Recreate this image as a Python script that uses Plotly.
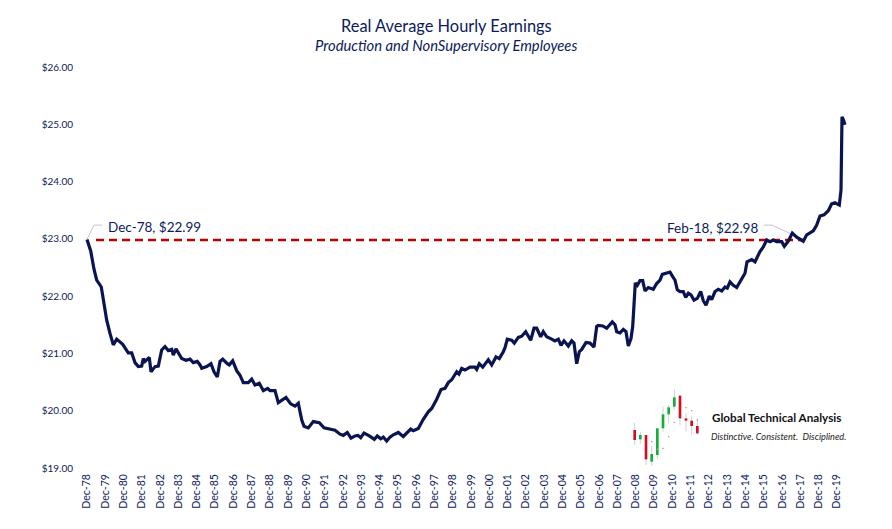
import plotly.graph_objects as go

px_series = [87,90.7,94,96.7,101.3,103.3,106.7,110,113.3,116.7,122.7,128.3,131.7,135,138.3,141.7,143.3,145,149.3,151,155,158.3,161.7,165,168.3,171.7,173.3,176,181.7,186,190,193.3,197.3,200,201.7,206.7,211,214,217.3,220,222.7,227.3,229.3,232.7,236.7,240,243.3,248.3,251.7,255,259.3,263.3,267.7,270,275,278.3,283.3,286,290.7,295,298.3,301.7,304,308.3,313.3,319.3,324,328.3,335,340,343.3,347.3,351,355,358,360.7,364,369.3,374.3,377.3,380.7,383.3,386.7,390,393.3,398.3,403.3,410.7,413.3,418.3,423.3,428.3,431.7,436.7,441,445,448.3,451.7,456.7,459,461.7,465,470,475,476.7,479.3,482.7,488.3,491.7,496,499.3,503.3,505,507.3,511.7,514.3,518.3,521.7,525.7,530.7,534,536.7,540.7,543.3,546.7,551.7,555,558.3,561,564,568.3,571.7,574,576.7,579.3,581.7,586,590,594,596.7,598.3,602.7,606.7,612.3,615,616.7,620,623.3,626,628.3,631,632.7,634,635.3,637.3,640,642.7,645,648.3,653.3,656.7,660,662.3,666.7,670,672.7,675,677.3,680,683.3,685.7,688.3,691,694,697.3,700.7,703.3,706,709.3,711.7,715,718.3,721.7,725,727.3,730,733.3,736.7,740.7,745,747,751.7,755,760,763.3,766.7,770,773.3,776.7,781.7,784.3,788.3,792.3,796.7,803.3,806.7,813.3,816.7,820,824,828.3,831.7,835,839.3,841,842,843.3,845]
values = [22.99,22.79,22.47,22.28,22.16,21.92,21.58,21.35,21.15,21.25,21.16,21.01,21.01,20.84,20.77,20.78,20.91,20.86,20.93,20.68,20.77,20.78,21.06,21.12,21.05,21.07,20.97,21.08,20.91,20.88,20.90,20.84,20.86,20.80,20.74,20.77,20.82,20.68,20.59,20.86,20.90,20.82,20.80,20.87,20.70,20.62,20.49,20.49,20.55,20.45,20.48,20.35,20.39,20.35,20.35,20.14,20.20,20.23,20.12,20.08,20.13,19.84,19.73,19.70,19.81,19.79,19.70,19.68,19.66,19.59,19.57,19.62,19.52,19.56,19.57,19.53,19.61,19.56,19.50,19.56,19.51,19.54,19.47,19.54,19.58,19.62,19.55,19.68,19.65,19.69,19.85,19.98,20.04,20.20,20.37,20.39,20.49,20.54,20.68,20.64,20.74,20.71,20.76,20.76,20.72,20.82,20.76,20.89,20.80,20.94,20.91,21.03,21.10,21.25,21.23,21.18,21.28,21.30,21.38,21.23,21.44,21.44,21.29,21.38,21.29,21.25,21.22,21.25,21.14,21.22,21.13,21.22,21.18,20.82,21.03,21.07,21.19,21.18,21.11,21.47,21.49,21.48,21.44,21.55,21.50,21.38,21.36,21.42,21.38,21.13,21.26,21.47,21.85,22.23,22.19,22.27,22.27,22.09,22.15,22.12,22.22,22.28,22.38,22.41,22.42,22.34,22.28,22.11,22.08,22.08,21.98,22.05,22.02,21.93,21.96,22.08,21.92,21.84,22.00,21.94,22.08,22.12,22.09,22.16,22.14,22.25,22.19,22.15,22.27,22.40,22.60,22.64,22.60,22.78,22.86,22.98,22.95,22.98,22.95,22.95,22.87,22.96,23.10,23.03,22.96,23.07,23.14,23.24,23.40,23.42,23.49,23.61,23.63,23.59,23.85,25.13,25.08,24.99]

tick_labels = [f"Dec-{(78 + i) % 100:02d}" for i in range(42)]
y_ticks = [19, 20, 21, 22, 23, 24, 25, 26]
y_labels = [f"${v}.00" for v in y_ticks]

NAVY = "#0b1a5c"
LINE = "#0a1450"
FONT = "Lato"
PX_PER_YEAR = 750 / 41
L, R, T, B = 80, 860, 67, 468   # plot box in page pixels
PAGE = 8                        # body margin of the written page
FIG_W, FIG_H = 876, 513


def year(px):
    return 1978.92 + (px - 87) / PX_PER_YEAR


dates = [year(p) for p in px_series]
tick_vals = [1978.92 + i for i in range(42)]

fig = go.Figure()
fig.add_trace(go.Scatter(x=[year(96), year(805)], y=[22.98, 22.98], mode="lines",
                         line=dict(color="#c00000", width=2.6, dash="8px,5px"), hoverinfo="skip"))
fig.add_trace(go.Scatter(x=[year(87), year(94), year(102)], y=[22.99, 23.24, 23.24], mode="lines",
                         line=dict(color="#c4c4c4", width=1), hoverinfo="skip"))
fig.add_trace(go.Scatter(x=[year(764), year(772), year(792)], y=[23.24, 23.24, 23.08], mode="lines",
                         line=dict(color="#c4c4c4", width=1), hoverinfo="skip"))
fig.add_trace(go.Scatter(x=dates, y=values, mode="lines",
                         line=dict(color=LINE, width=3.2, shape="linear")))


def xp(px):
    return (px - L) / (R - L)


def yp(py):
    return (B - py) / (B - T)


def note(px, py, text, size, color=NAVY, anchor="center", **font):
    fig.add_annotation(x=xp(px), y=yp(py), xref="paper", yref="paper", text=text, showarrow=False,
                       xanchor=anchor, yanchor="middle", font=dict(family=FONT, size=size, color=color, **font))


note(446, 25, "Real Average Hourly Earnings", 16.4)
note(446, 45, "<i>Production and NonSupervisory Employees</i>", 14.8)
note(106, 227, "Dec-78, $22.99", 13.5, anchor="left")
note(760, 228, "Feb-18, $22.98", 13.5, anchor="right")
note(710, 417, "<b>Global Technical Analysis</b>", 11.7, color="#111111", anchor="left")
note(709, 436, "<i>Distinctive. Consistent.  Disciplined.</i>", 9.2, color="#222222", anchor="left")

# Logo candles, in zoomed-logo units
candles = [
    (74, 150, 180, 128, 195, "r"), (91, 165, 178, 155, 192, "g"), (108, 165, 238, 165, 255, "r"),
    (125, 222, 245, 198, 258, "g"), (142, 145, 225, 145, 235, "g"), (159, 103, 145, 80, 155, "g"),
    (176, 82, 103, 75, 130, "g"), (193, 52, 80, 28, 90, "g"), (210, 47, 115, 45, 135, "r"),
    (228, 115, 122, 100, 155, "r"), (245, 122, 138, 110, 165, "r"), (262, 138, 160, 118, 165, "r"),
]
dots = [(125, 185), (142, 208), (159, 205), (176, 170), (193, 127), (228, 83), (245, 92), (262, 120)]
COL = {"r": "#d01020", "g": "#12b03a"}
shapes = []


def lx(z):
    return xp(610 + z / 3)


def ly(z):
    return yp(380 + z / 3)


for zx, top, bot, wt, wb, c in candles:
    shapes.append(dict(type="line", xref="paper", yref="paper", x0=lx(zx), x1=lx(zx), y0=ly(wt), y1=ly(wb),
                       line=dict(color="#d2d2d2", width=1)))
    shapes.append(dict(type="rect", xref="paper", yref="paper", x0=lx(zx - 4), x1=lx(zx + 4), y0=ly(top), y1=ly(bot),
                       fillcolor=COL[c], line=dict(width=0)))
for zx, zy in dots:
    shapes.append(dict(type="rect", xref="paper", yref="paper", x0=lx(zx - 2), x1=lx(zx + 2), y0=ly(zy - 2), y1=ly(zy + 2),
                       fillcolor="#e8808a", line=dict(width=0)))

fig.update_layout(
    width=FIG_W, height=FIG_H, autosize=False, showlegend=False, template=None,
    paper_bgcolor="white", plot_bgcolor="white",
    margin=dict(l=L - PAGE, r=FIG_W - (R - PAGE), t=T - PAGE, b=FIG_H - (B - PAGE)),
    font=dict(family=FONT, color=NAVY),
    shapes=shapes,
    xaxis=dict(range=[year(L), year(R)], tickmode="array", tickvals=tick_vals, ticktext=tick_labels,
               tickangle=-90, tickfont=dict(family=FONT, size=10.5, color=NAVY), showgrid=False,
               zeroline=False, showline=False, ticks="outside", ticklen=1, tickcolor="rgba(0,0,0,0)"),
    yaxis=dict(range=[19, 26], tickmode="array", tickvals=y_ticks, ticktext=y_labels,
               tickfont=dict(family=FONT, size=10, color=NAVY), showgrid=False, zeroline=False,
               showline=False, ticks="outside", ticklen=4, tickcolor="rgba(0,0,0,0)"),
)
fig.write_html("out.html")
